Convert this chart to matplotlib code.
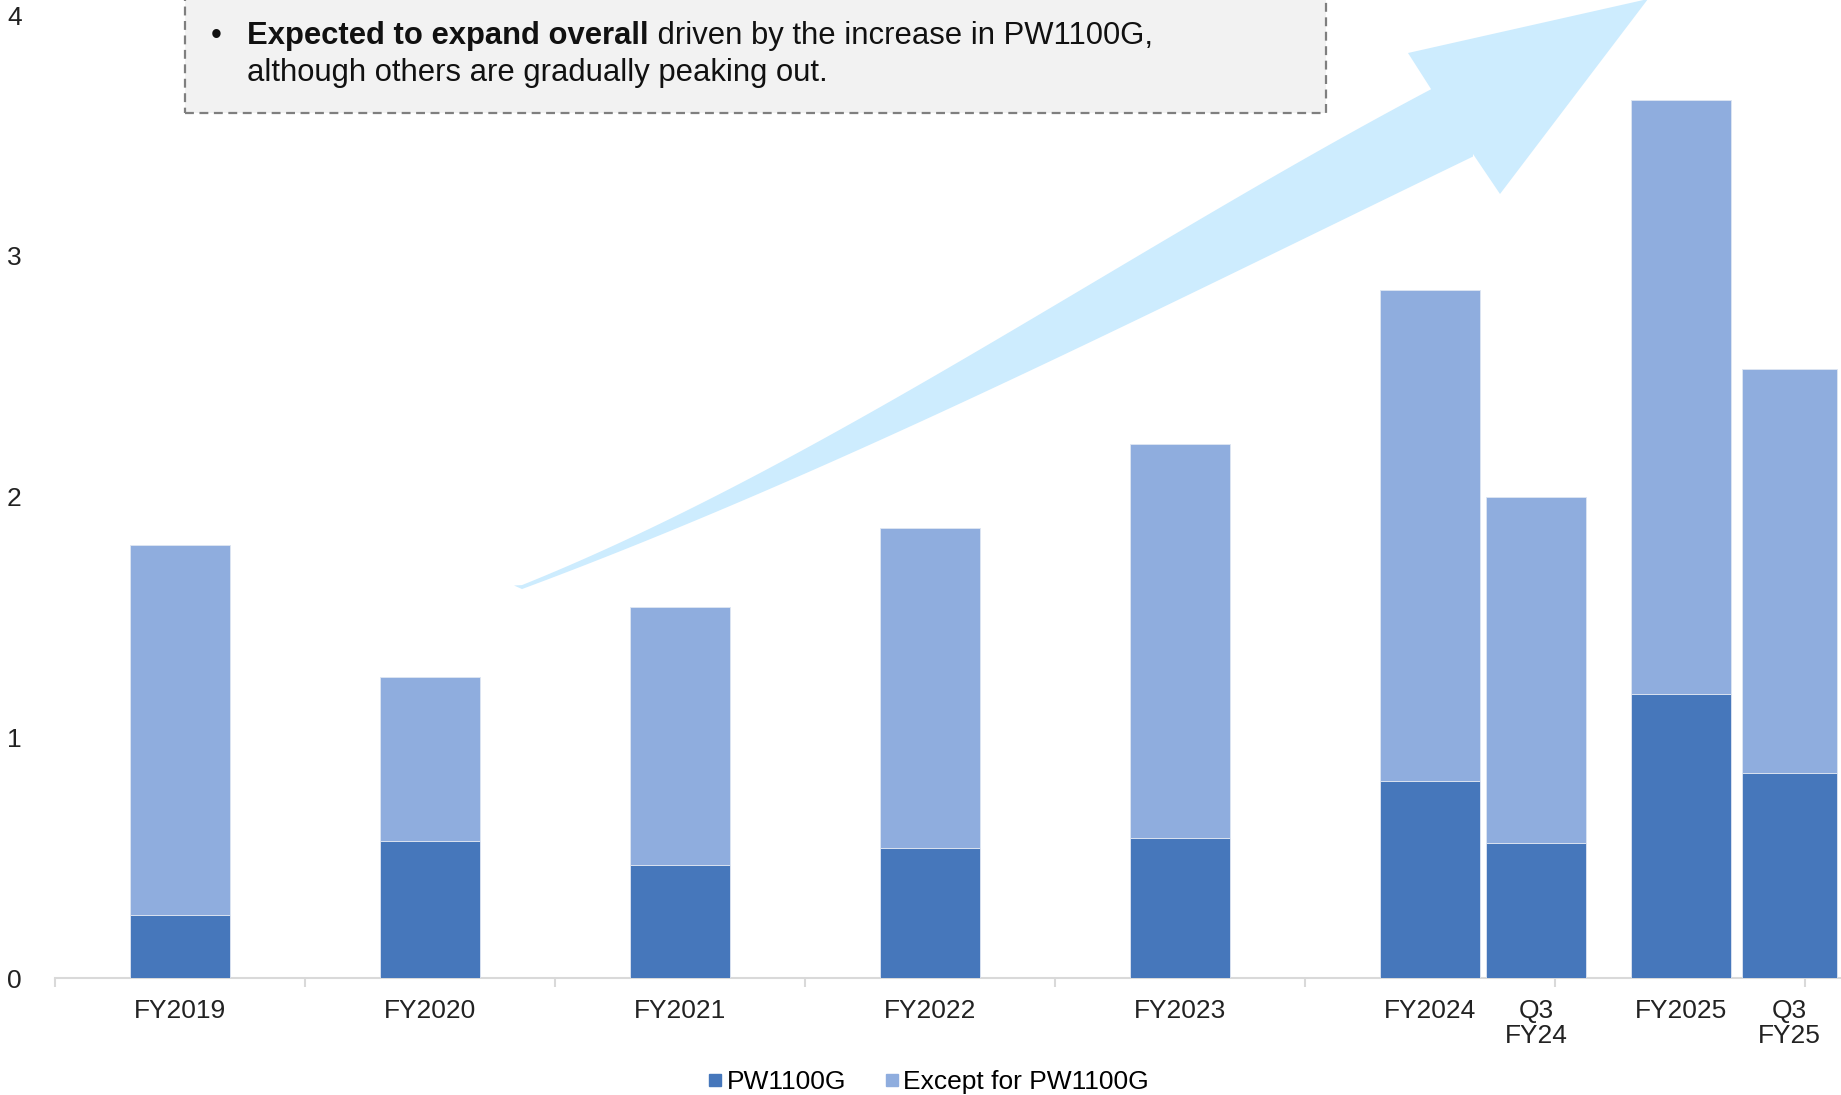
import numpy as np
import matplotlib
matplotlib.use('Agg')
import matplotlib.pyplot as plt
from matplotlib.patches import Polygon, Rectangle
from matplotlib.lines import Line2D

plt.rcParams['font.family'] = ['Liberation Sans', 'DejaVu Sans']

# data
labels = ['FY2019', 'FY2020', 'FY2021', 'FY2022', 'FY2023', 'FY2024', 'Q3\nFY24', 'FY2025', 'Q3\nFY25']
pw1100g = [0.26, 0.57, 0.47, 0.54, 0.58, 0.82, 0.56, 1.18, 0.85]
except_pw = [1.54, 0.68, 1.07, 1.33, 1.64, 2.04, 1.44, 2.47, 1.68]
xpos = [0.5, 1.5, 2.5, 3.5, 4.5, 5.5, 5.925, 6.505, 6.938]
widths = [0.4, 0.4, 0.4, 0.4, 0.4, 0.4, 0.4, 0.4, 0.38]
yticks = [0, 1, 2, 3, 4]

c_dark = '#4677bb'
c_light = '#8fadde'
c_arrow = '#cdecfe'

W, H = 1841, 1095
fig = plt.figure(figsize=(W / 100, H / 100), dpi=100)
ax = fig.add_axes([55 / W, 1 - 978 / H, 1 - 55 / W, (978 - 15.3) / H])

ax.bar(xpos, pw1100g, width=widths, color=c_dark, edgecolor='#dfe6f2', linewidth=0.6, zorder=3)
ax.bar(xpos, except_pw, width=widths, bottom=pw1100g, color=c_light, edgecolor='#dfe6f2', linewidth=0.6, zorder=3)

ax.set_xlim(0, (W - 55) / 250)
ax.set_ylim(0, 4)
ax.set_yticks(yticks)
ax.set_yticklabels([str(v) for v in yticks], fontsize=19, color='#222222')
ax.set_xticks(xpos)
ax.set_xticklabels(labels, fontsize=19, color='#222222', linespacing=1.05)
ax.set_xticks(range(0, 8), minor=True)
ax.tick_params(axis='x', which='major', length=0, pad=15)
ax.tick_params(axis='x', which='minor', length=6.5, width=1.5, color='#d9d9d9')
ax.tick_params(axis='y', length=0, pad=24)
for s in ['top', 'right', 'left']:
    ax.spines[s].set_visible(False)
ax.spines['bottom'].set_color('#d9d9d9')
ax.spines['bottom'].set_linewidth(1.5)

# big curved arrow, outline traced in figure pixels (y down), smoothed
up_x = [515, 567, 633, 700, 767, 833, 900, 980, 1080, 1180, 1280, 1333, 1431]
up_y = [585, 568, 538, 507, 470, 432, 392, 347, 292, 235, 172, 142, 89]
lo_x = [515, 567, 600, 667, 733, 800, 867, 900, 980, 1080, 1180, 1300, 1400, 1473]
lo_y = [586, 574, 563, 537, 505, 473, 445, 429, 393, 347, 298, 245, 193, 154]
pu = np.polyfit(up_x, up_y, 3)
pl = np.polyfit(lo_x, lo_y, 3)
xu = np.linspace(522, 1431, 80)
xl = np.linspace(1473, 522, 80)
upper = list(zip(xu, np.polyval(pu, xu)))
lower = list(zip(xl, np.polyval(pl, xl)))
tail = [(514, 585.5)]
head = [(1431, 89), (1408, 53), (1648, -1), (1500, 194), (1473, 154)]
arrow_pts = [(x / W, 1 - y / H) for x, y in tail + upper + head + lower]
fig.patches.append(Polygon(arrow_pts, closed=True, facecolor=c_arrow, edgecolor='none',
                           transform=fig.transFigure, zorder=1))

# comment box
box = Rectangle((185 / W, 1 - 113 / H), (1326 - 185) / W, 140 / H, transform=fig.transFigure,
                facecolor='#f2f2f2', edgecolor='#7f7f7f', linewidth=1.6,
                linestyle=(0, (4, 2.5)), zorder=2)
fig.patches.append(box)

fs = 22.3
fig.text(211 / W, 1 - 36 / H, '•', fontsize=fs, va='center', ha='left', color='#111111')
t_bold = fig.text(247 / W, 1 - 36 / H, 'Expected to expand overall', fontsize=fs,
                  fontweight='bold', va='center', ha='left', color='#111111')
ann = matplotlib.text.Annotation(' driven by the increase in PW1100G,', xy=(1, 0),
                                 xycoords=t_bold, va='bottom', ha='left',
                                 fontsize=fs, color='#111111')
ann.set_figure(fig)
fig.texts.append(ann)
fig.text(247 / W, 1 - 73 / H, 'although others are gradually peaking out.', fontsize=fs,
         va='center', ha='left', color='#111111')

handles = [Line2D([], [], marker='s', ls='', color=c_dark, markersize=8),
           Line2D([], [], marker='s', ls='', color=c_light, markersize=8)]
fig.legend(handles, ['PW1100G', 'Except for PW1100G'], loc='center', ncol=2,
           bbox_to_anchor=(927 / W, 1 - 1082 / H), bbox_transform=fig.transFigure,
           frameon=False, fontsize=19, handletextpad=0.05, columnspacing=1.3,
           handlelength=0.8, borderaxespad=0)

fig.savefig('out.png', dpi=100)
